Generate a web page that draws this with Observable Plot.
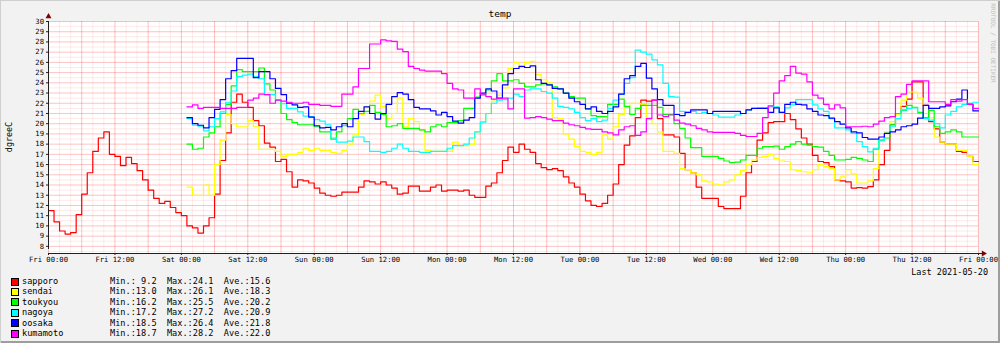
<!DOCTYPE html>
<html><head><meta charset="utf-8">
<script src="https://cdn.jsdelivr.net/npm/d3@7"></script>
<script src="https://cdn.jsdelivr.net/npm/@observablehq/plot@0.6"></script>
<style>
html,body{margin:0;padding:0;background:#f2f2f2;}
#wrap{position:relative;width:1000px;height:343px;box-sizing:border-box;background:#f2f2f2;
  box-shadow: inset 1px 1px 0 #cfcfcf, inset -2px -2px 0 #9e9e9e;
  overflow:hidden;font-family:"DejaVu Sans Mono",monospace;color:#000;}
#chart{position:absolute;left:0;top:0;}
#title{position:absolute;left:0;width:1000px;top:8px;text-align:center;font-size:9.5px;line-height:11px;}
#ylabel{position:absolute;left:8.5px;top:137px;font-size:8.4px;line-height:10px;white-space:nowrap;transform:translate(-50%,-50%) rotate(-90deg);}
#credit{position:absolute;left:993px;top:43px;font-size:6px;line-height:7px;white-space:nowrap;color:#bdbdbd;transform:translate(-50%,-50%) rotate(90deg);}
#last{position:absolute;right:12px;top:267px;font-size:8.5px;line-height:10px;white-space:nowrap;}
.row{position:absolute;left:0;height:10px;font-size:8.6px;line-height:10px;white-space:pre;}
.sw{position:absolute;left:11px;top:1.5px;width:6px;height:6px;border:1px solid #000;}
.nm{position:absolute;left:22px;top:0;}
.st{position:absolute;left:110px;top:0;}
</style>
</head><body>
<div id="wrap">
  <div id="chart"></div>
  <div id="title">temp</div>
  <div id="ylabel">dgreeC</div>
  <div id="credit">RRDTOOL / TOBI OETIKER</div>
  <div id="last">Last 2021-05-20</div>
  <div id="legend"></div>
</div>
<script>
// ---- data (hourly values) ----
const seriesNames = ["sapporo","sendai","toukyou","nagoya","oosaka","kumamoto"];
const seriesColors = ["#ff0000","#ffff00","#00ff00","#00ffff","#0000ff","#ff00ff"];
const startHours = [0,25,25,25,25,25]; // hours after Fri 00:00
const legendMin = [" 9.2","13.0","16.2","17.2","18.5","18.7"];
const legendMax = ["24.1","26.1","25.5","27.2","26.4","28.2"];
const legendAve = ["15.6","18.3","20.2","20.9","21.8","22.0"];
const lastLabel = "Last 2021-05-20";
const yTicks = [8,9,10,11,12,13,14,15,16,17,18,19,20,21,22,23,24,25,26,27,28,29,30];

const sapporo = [
11.5,10.4,9.5,9.2,9.35,11.1,13.1,15.2,17.3,18.6,
19.2,17.0,16.8,15.9,16.7,16.1,15.4,14.5,13.5,12.7,
12.2,12.4,11.8,11.3,11.0,10.0,9.8,9.3,10.0,10.8,
13.1,16.4,19.1,22.1,22.9,22.1,21.6,20.3,19.8,18.1,
17.7,16.3,16.5,15.3,13.8,14.5,14.4,14.2,13.7,13.2,
13.0,12.9,13.0,13.3,13.3,13.3,13.8,14.4,14.3,14.1,
14.3,14.0,13.7,13.1,13.2,13.9,13.9,13.4,13.4,13.8,
14.0,13.4,13.5,13.5,13.4,13.5,13.0,12.8,12.8,13.9,
14.2,15.2,16.4,17.7,17.2,18.0,17.5,17.2,16.1,15.7,
15.5,15.6,15.4,14.8,14.2,13.8,13.1,12.45,12.0,11.9,
12.2,13.0,14.1,16.0,17.9,18.8,20.6,22.3,22.2,22.3,
20.5,18.9,18.9,18.7,17.1,15.5,15.2,13.8,12.7,12.7,
12.7,11.9,11.7,11.7,11.7,12.9,15.2,16.3,18.4,19.1,
20.1,20.2,20.2,21.0,20.4,19.5,18.6,18.0,16.9,16.3,
16.2,15.8,14.5,14.4,14.3,13.7,13.75,13.7,13.85,14.5,
16.0,17.4,19.9,21.0,21.7,22.4,24.1,24.1,21.8,20.2,
19.5,18.2,18.0,18.0,17.3,17.2,16.8,16.3];
const sendai = [
13.8,13.0,13.0,14.0,13.0,
16.0,18.4,20.9,20.0,19.7,19.7,20.3,19.7,17.5,17.5,
17.5,17.3,16.8,17.0,17.0,17.2,17.6,17.4,17.6,17.4,
17.4,17.2,17.1,17.4,18.0,18.9,20.9,21.7,22.2,22.8,
21.7,20.5,21.0,22.5,19.7,20.5,20.2,19.4,17.4,17.3,
17.3,17.3,17.3,18.2,17.85,17.85,18.0,19.2,20.2,21.0,
22.2,22.8,23.5,25.4,26.0,25.5,26.0,26.1,24.8,24.3,
24.0,20.6,20.5,19.0,18.5,17.75,17.3,17.2,17.0,17.2,
18.9,18.5,19.7,20.9,21.6,22.0,22.0,21.9,20.6,20.0,
19.2,17.3,17.3,17.1,15.6,15.5,15.2,15.0,14.4,14.3,
14.1,14.0,14.3,14.5,15.0,15.4,16.0,16.45,16.7,16.8,
17.0,16.6,16.35,16.3,15.5,15.4,15.3,15.25,15.5,16.0,
15.8,15.6,14.5,14.8,15.5,15.1,14.2,14.2,14.4,15.6,
18.3,19.2,20.2,20.9,22.3,23.1,23.1,22.5,20.6,20.6,
18.7,18.2,18.0,18.0,17.4,17.4,16.8,16.0];
const toukyou = [
18.0,17.5,17.6,18.7,19.1,
19.7,21.0,21.9,23.7,25.3,25.1,25.1,25.1,25.45,23.9,
23.3,22.3,21.0,20.4,20.1,19.9,19.9,19.9,19.7,19.2,
19.2,18.5,19.2,19.8,20.5,21.4,21.0,21.2,21.8,21.1,
20.9,19.7,19.8,20.0,19.55,19.55,19.55,19.4,19.2,19.7,
19.9,19.7,20.1,20.1,20.3,21.5,21.5,22.6,22.8,23.3,
24.2,24.9,24.2,24.2,24.3,23.95,23.6,23.6,23.8,23.9,
23.8,23.6,23.4,23.0,22.65,22.5,22.5,21.45,20.8,20.7,
20.7,21.9,21.9,22.4,21.7,20.9,21.5,21.8,21.8,21.8,
21.6,20.9,20.9,20.0,19.55,18.6,17.65,17.65,16.8,16.8,
16.8,16.6,16.35,16.2,16.25,16.45,16.9,16.9,17.6,17.75,
17.75,17.8,17.5,17.75,18.0,18.25,18.0,17.9,17.75,17.7,
17.3,16.9,16.45,16.45,16.5,16.7,16.6,16.45,16.3,17.5,
18.4,18.6,19.9,21.0,21.3,21.8,21.6,21.1,20.6,21.3,
19.7,19.05,19.2,19.4,19.2,18.7,18.7,18.7];
const nagoya = [
20.5,19.85,19.75,19.3,19.7,
20.5,21.15,22.1,23.2,24.6,24.75,24.85,24.6,24.4,22.85,
22.85,22.3,21.95,21.5,21.5,21.15,20.75,20.7,20.4,20.25,
19.9,18.6,18.2,18.2,18.3,18.7,18.7,18.25,17.3,17.3,
17.2,17.3,17.6,18.0,17.6,17.3,17.3,17.2,17.2,17.3,
17.3,17.3,17.6,17.85,17.85,18.0,18.6,19.2,20.15,21.0,
22.0,22.3,22.35,22.5,22.9,22.65,23.3,23.4,23.4,23.15,
23.0,22.5,21.7,21.6,21.45,21.1,20.6,20.3,20.5,20.2,
20.35,21.5,22.3,22.9,23.95,24.5,27.2,27.0,26.8,26.25,
25.75,23.95,22.65,22.6,21.2,21.1,21.2,21.0,21.1,21.0,
20.85,20.65,20.65,20.65,20.85,21.0,21.35,21.5,21.55,21.55,
21.65,21.65,21.1,21.55,21.85,22.35,22.35,22.35,21.85,21.45,
21.2,20.5,19.6,19.6,19.4,19.05,18.25,17.75,17.25,17.6,
18.4,19.05,19.7,20.5,21.35,21.5,21.55,21.0,20.5,20.35,
20.0,19.6,20.85,21.2,21.65,21.9,22.0,22.1];
const oosaka = [
20.6,20.0,19.85,19.6,20.6,
21.4,22.35,24.4,25.2,26.4,26.4,26.4,24.5,25.1,25.1,
24.4,23.45,22.85,22.0,21.85,21.6,21.65,20.65,19.8,19.6,
19.65,19.4,19.7,20.0,19.7,20.5,21.2,21.65,21.0,20.45,
21.0,21.9,22.65,23.05,22.9,22.35,21.6,21.45,21.45,21.25,
20.85,21.1,20.7,20.25,20.05,20.35,20.6,22.5,23.0,23.4,
23.2,22.5,23.8,24.9,25.4,25.6,25.5,25.65,24.3,23.95,
23.8,23.45,23.4,23.0,22.5,22.15,21.9,21.45,21.65,21.2,
21.0,21.2,21.65,22.9,24.4,24.7,25.6,25.9,24.45,23.4,
22.35,21.8,21.8,20.9,20.8,21.1,21.35,21.35,21.35,21.0,
21.2,21.2,21.2,21.2,21.2,21.0,21.35,21.5,21.5,21.5,
21.1,21.55,21.1,21.9,22.1,21.9,21.85,21.45,21.2,20.85,
20.8,20.55,20.2,19.95,19.6,19.2,19.1,18.65,18.5,18.5,
18.7,19.05,19.2,19.4,19.7,19.8,19.95,20.55,21.8,21.5,
21.5,21.65,21.75,22.15,22.4,23.3,21.9,21.25];
const kumamoto = [
21.65,21.85,21.5,21.6,21.6,
21.6,21.5,21.5,21.5,21.6,21.6,22.3,22.5,22.9,22.85,
22.0,22.3,22.2,22.1,22.0,22.0,22.1,21.9,21.9,21.8,
21.8,21.7,21.7,22.9,22.9,23.6,25.4,25.4,27.8,27.8,
28.2,28.1,28.05,27.3,27.05,25.6,25.4,25.25,25.15,25.15,
25.15,24.9,23.95,23.4,23.3,22.5,22.5,23.4,22.9,22.65,
22.4,22.45,22.5,21.45,23.4,23.4,20.55,20.6,20.7,20.6,
20.45,20.3,20.3,20.05,19.9,19.8,19.65,19.5,19.45,19.45,
19.2,19.1,18.9,19.4,19.7,19.8,18.85,19.2,20.5,22.3,
20.85,20.7,20.85,20.35,20.05,19.95,19.8,19.55,19.4,19.2,
19.15,19.15,19.15,19.15,19.05,18.85,18.75,18.75,19.05,20.6,
21.75,23.0,24.2,24.7,25.6,24.95,24.85,24.1,22.8,22.5,
21.9,21.45,21.85,21.55,19.7,19.7,19.7,19.75,19.7,19.95,
20.25,20.6,20.7,22.65,22.9,23.85,24.2,24.2,24.2,22.15,
22.15,22.15,21.9,22.35,22.2,22.35,21.9,21.5];

// ---- build ----
const seriesValues = [sapporo, sendai, toukyou, nagoya, oosaka, kumamoto];
const t0 = Date.UTC(2021, 4, 14); // Fri 2021-05-14 00:00
const HOUR = 3600e3;
const toDate = h => new Date(t0 + h * HOUR);
const xDomain = [toDate(0), toDate(168)];
const yDomain = [7.3, 30];

const tables = seriesValues.map((vals, k) => {
  const s = startHours[k];
  const r = vals.map((v, i) => ({t: toDate(s + i), v}));
  r.push({t: toDate(s + vals.length), v: vals[vals.length - 1]});
  return r;
});

const end = new Date(+xDomain[1] + 1);
const xTicks = d3.utcHour.every(12).range(xDomain[0], end);
const xMajor = d3.utcHour.every(6).range(xDomain[0], end);
const xMinor = d3.utcHour.every(2).range(xDomain[0], end);
const yMinor = d3.range(7.5, 30.01, 0.5);

const chart = Plot.plot({
  width: 1000, height: 268,
  marginLeft: 48, marginRight: 22, marginTop: 21, marginBottom: 15,
  style: {background: "transparent", fontFamily: "DejaVu Sans Mono", fontSize: "7.2px", color: "#000", overflow: "visible"},
  x: {type: "utc", domain: xDomain, label: null},
  y: {domain: yDomain, label: null},
  marks: [
    Plot.frame({fill: "#ffffff", stroke: null}),
    Plot.ruleY(yMinor, {stroke: "#ff0000", strokeOpacity: 0.09}),
    Plot.ruleX(xMinor, {stroke: "#ff0000", strokeOpacity: 0.08}),
    Plot.ruleY(yTicks, {stroke: "#ff0000", strokeOpacity: 0.16}),
    Plot.ruleX(xMajor, {stroke: "#ff0000", strokeOpacity: 0.18}),
    ...tables.map((tb, k) => Plot.line(tb, {x: "t", y: "v", curve: "step-after", stroke: seriesColors[k], strokeWidth: 1.2})),
    Plot.axisX({ticks: xTicks, tickFormat: d3.utcFormat("%a %H:%M"), tickSize: 2, tickPadding: 1.5, stroke: "#1f1f1f", label: null}),
    Plot.axisY({ticks: yTicks, tickSize: 2, tickPadding: 2.5, tickFormat: d => String(d), stroke: "#1f1f1f", label: null}),
    Plot.ruleX([xDomain[0]], {y1: yDomain[0], y2: yDomain[1], stroke: "#1f1f1f", insetTop: -4}),
    Plot.ruleY([yDomain[0]], {x1: xDomain[0], x2: xDomain[1], stroke: "#1f1f1f", insetRight: -4}),
    Plot.dot([0], {frameAnchor: "top-left", symbol: "triangle", r: 2.2, fill: "#800000", stroke: null, dy: -5}),
    Plot.dot([0], {frameAnchor: "bottom-right", symbol: "triangle", r: 2.2, fill: "#800000", stroke: null, dx: 5, rotate: 90})
  ]
});
document.getElementById("chart").appendChild(chart);

// legend
const leg = document.getElementById("legend");
seriesNames.forEach((n, i) => {
  const row = document.createElement("div");
  row.className = "row";
  row.style.top = (276 + i * 10.45) + "px";
  row.innerHTML = `<span class="sw" style="background:${seriesColors[i]}"></span><span class="nm">${n}</span><span class="st">Min.:${legendMin[i]}  Max.:${legendMax[i]}  Ave.:${legendAve[i]}</span>`;
  leg.appendChild(row);
});
document.getElementById("last").textContent = lastLabel;
</script>
</body></html>
